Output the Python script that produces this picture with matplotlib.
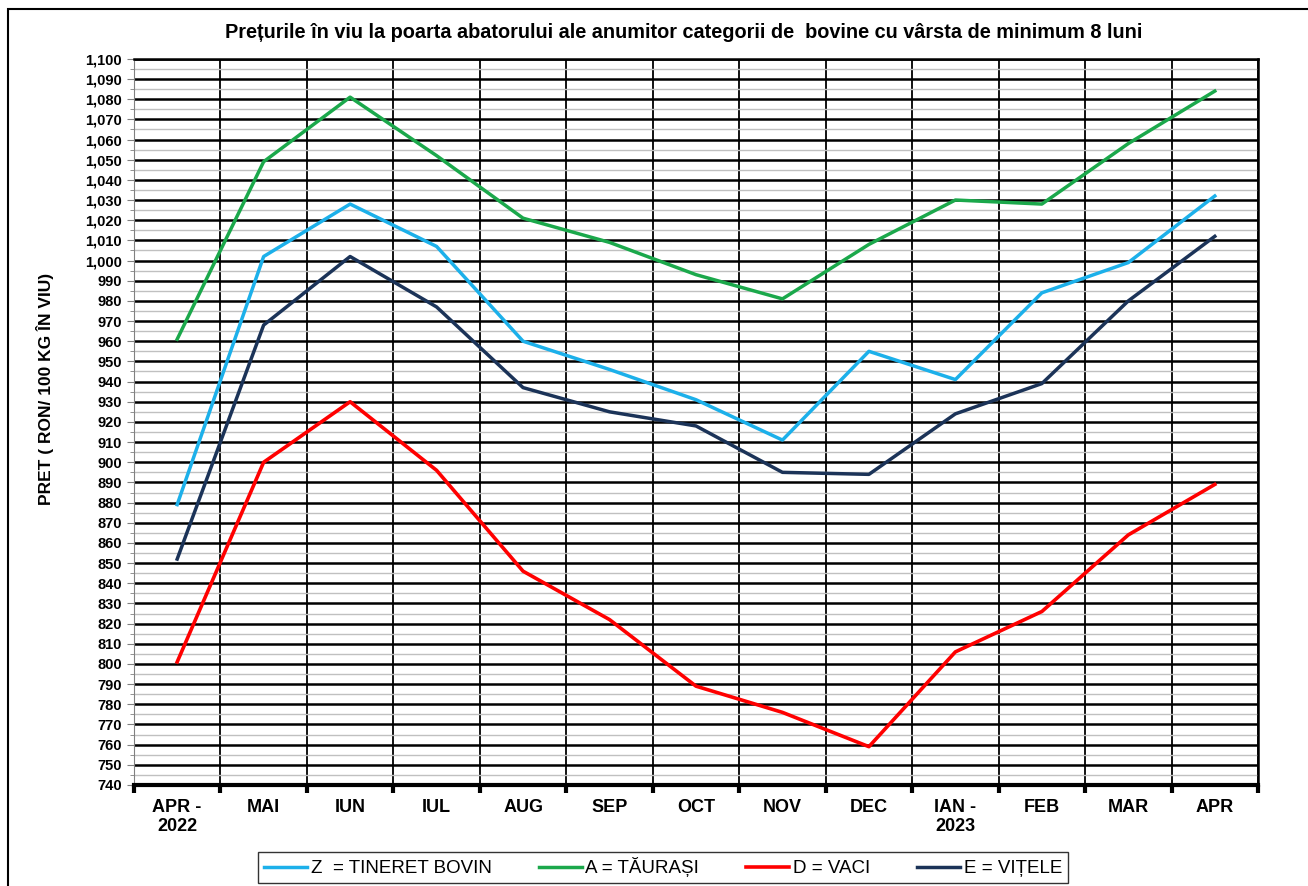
import numpy as np
import matplotlib.pyplot as plt
from matplotlib.ticker import MultipleLocator, FuncFormatter, FixedLocator
from matplotlib.patches import Rectangle

plt.rcParams['font.family'] = ['Liberation Sans', 'DejaVu Sans']

luni = ['APR -\n2022', 'MAI', 'IUN', 'IUL', 'AUG', 'SEP', 'OCT', 'NOV', 'DEC',
        'IAN -\n2023', 'FEB', 'MAR', 'APR']

# preturi RON / 100 kg in viu
tineret_bovin = [879, 1002, 1028, 1007, 960, 946, 931, 911, 955, 941, 984, 999, 1032]
taurasi = [961, 1049, 1081, 1052, 1021, 1009, 993, 981, 1008, 1030, 1028, 1058, 1084]
vaci = [801, 900, 930, 896, 846, 822, 789, 776, 759, 806, 826, 864, 889]
vitele = [852, 968, 1002, 977, 937, 925, 918, 895, 894, 924, 939, 980, 1012]

x = np.arange(len(luni))

fig = plt.figure(figsize=(13.08, 8.86), dpi=100)
ax = fig.add_axes([0.1024, 0.114, 0.8594, 0.8196])

ax.plot(x, tineret_bovin, color='#1CB0EA', lw=2.5, label='Z  = TINERET BOVIN', zorder=5)
ax.plot(x, taurasi, color='#1BA84B', lw=2.5, label='A = TĂURAȘI', zorder=5)
ax.plot(x, vaci, color='#FF0000', lw=2.6, label='D = VACI', zorder=5)
ax.plot(x, vitele, color='#1B3358', lw=2.5, label='E = VIȚELE', zorder=5)

ax.set_xlim(-0.5, len(luni) - 0.5)
ax.set_ylim(740, 1100)

# y axis grid
ax.yaxis.set_major_locator(MultipleLocator(10))
ax.yaxis.set_minor_locator(MultipleLocator(5))
ax.yaxis.set_major_formatter(FuncFormatter(lambda v, p: f'{int(v):,}'))
ax.grid(axis='y', which='major', color='black', lw=1.8)
ax.grid(axis='y', which='minor', color='#C0C0C0', lw=1.0)
ax.tick_params(axis='y', which='major', length=5, color='#808080', labelsize=10.5)
ax.tick_params(axis='y', which='minor', length=3, color='#808080')
for lab in ax.get_yticklabels():
    lab.set_fontweight('bold')

# x axis: labels at categories, grid at boundaries
ax.set_xticks(x)
ax.set_xticklabels(luni, fontsize=13, fontweight='bold')
ax.xaxis.set_minor_locator(FixedLocator(np.arange(-0.5, len(luni), 1)))
ax.tick_params(axis='x', which='major', length=0, pad=10)
ax.tick_params(axis='x', which='minor', length=6, width=3, color='black')
ax.grid(axis='x', which='minor', color='black', lw=1.3)

ax.spines['bottom'].set_linewidth(3)
ax.spines['left'].set_color('#808080')
ax.spines['right'].set_linewidth(1.8)
ax.spines['top'].set_linewidth(1.8)
ax.set_axisbelow(True)

ax.set_ylabel('PRET ( RON/ 100 KG ÎN VIU)', fontsize=12.5, fontweight='bold')
ax.yaxis.set_label_coords(-0.071, 0.545)
fig.text(0.523, 0.963, 'Prețurile în viu la poarta abatorului ale anumitor categorii de  bovine cu vârsta de minimum 8 luni',
         ha='center', va='center', fontsize=14.3, fontweight='bold')

leg = fig.legend(loc='center', bbox_to_anchor=(0.507, 0.021), ncol=4, fontsize=13.5,
                 frameon=True, fancybox=False, edgecolor='black', handlelength=2.3,
                 handletextpad=0.2, columnspacing=2.5, borderpad=0.3)
leg.get_frame().set_linewidth(1.0)

fig.patches.append(Rectangle((0.006, -0.05), 1.2, 1.04, transform=fig.transFigure,
                             fill=False, edgecolor='black', lw=1.5))

plt.savefig('out.png', dpi=100)
